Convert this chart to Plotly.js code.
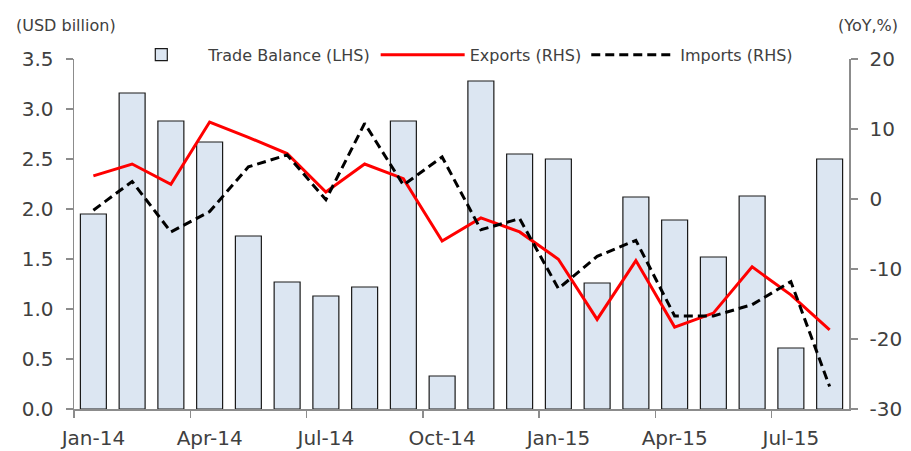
<!DOCTYPE html>
<html>
<head>
<meta charset="utf-8">
<script src="https://cdn.plot.ly/plotly-3.0.1.min.js"></script>
<style>
  html, body { margin: 0; padding: 0; background: #ffffff; }
  #chart { width: 911px; height: 451px; }
</style>
</head>
<body>
<div id="chart"></div>
<script>
const months = ["Jan-14","Feb-14","Mar-14","Apr-14","May-14","Jun-14","Jul-14","Aug-14","Sep-14","Oct-14","Nov-14","Dec-14",
                "Jan-15","Feb-15","Mar-15","Apr-15","May-15","Jun-15","Jul-15","Aug-15"];
const tradeBalance = [1.95, 3.16, 2.88, 2.67, 1.73, 1.27, 1.13, 1.22, 2.88, 0.33, 3.28, 2.55,
                      2.50, 1.26, 2.12, 1.89, 1.52, 2.13, 0.61, 2.50];
const exportsYoY = [3.3, 5.0, 2.1, 11.0, 8.8, 6.5, 1.0, 5.0, 2.9, -6.0, -2.7, -4.7,
                    -8.6, -17.2, -8.8, -18.3, -16.3, -9.7, -13.7, -18.7];
const importsYoY = [-1.6, 2.5, -4.7, -1.8, 4.6, 6.3, -0.1, 10.8, 2.0, 6.0, -4.4, -2.8,
                    -12.8, -8.2, -5.9, -16.7, -16.7, -15.1, -11.8, -26.8];
const leftTicks = [0, 0.5, 1.0, 1.5, 2.0, 2.5, 3.0, 3.5];
const rightTicks = [-30, -20, -10, 0, 10, 20];

const idx = months.map((m, i) => i);
const labelIdx = idx.filter(i => i % 3 === 0);
const boundaryVals = labelIdx.map(i => i - 0.5);

const FONT = "DejaVu Sans, Verdana, sans-serif";
const TXT = "#404040";
const AX = "#8c8c8c";

const traces = [
  {
    type: "bar", name: "Trade Balance (LHS)", x: idx, y: tradeBalance,
    xaxis: "x", yaxis: "y",
    marker: { color: "#dce6f2", line: { color: "#1a1a1a", width: 1.2 } }
  },
  {
    type: "scatter", mode: "lines", name: "Exports (RHS)", x: idx, y: exportsYoY,
    xaxis: "x2", yaxis: "y2",
    line: { color: "#ff0000", width: 3 }
  },
  {
    type: "scatter", mode: "lines", name: "Imports (RHS)", x: idx, y: importsYoY,
    xaxis: "x2", yaxis: "y2",
    line: { color: "#000000", width: 3, dash: "9px,5px" }
  }
];

const layout = {
  width: 911, height: 451,
  margin: { l: 74, r: 62, t: 59, b: 42 },
  paper_bgcolor: "#ffffff", plot_bgcolor: "#ffffff",
  font: { family: FONT, color: TXT, size: 16 },
  bargap: 0.33,
  showlegend: true,
  legend: {
    orientation: "h", x: 0.052, xanchor: "left", y: 1.012, yanchor: "middle",
    itemwidth: 84,
    bgcolor: "rgba(0,0,0,0)", font: { family: FONT, size: 16, color: TXT },
    traceorder: "normal"
  },
  xaxis: {
    type: "linear", range: [-0.5, 19.5], tickmode: "array", tickvals: boundaryVals,
    showticklabels: false, ticks: "outside", ticklen: 7, tickcolor: AX, tickwidth: 1.5,
    showline: true, linecolor: AX, linewidth: 1.5, showgrid: false, zeroline: false
  },
  xaxis2: {
    type: "linear", overlaying: "x", side: "bottom", anchor: "y", range: [-0.5, 19.5],
    tickmode: "array", tickvals: labelIdx, ticktext: labelIdx.map(i => months[i]),
    ticks: "", showline: false, showgrid: false, zeroline: false,
    tickfont: { family: FONT, size: 20, color: TXT }, ticklabelstandoff: 15
  },
  yaxis: {
    range: [0, 3.5], tickmode: "array", tickvals: leftTicks, tickformat: ".1f",
    ticks: "outside", ticklen: 7, tickcolor: AX, tickwidth: 1.5,
    showline: true, linecolor: AX, linewidth: 1.5, showgrid: false, zeroline: false,
    tickfont: { family: FONT, size: 20, color: TXT }, ticklabelstandoff: 8
  },
  yaxis2: {
    overlaying: "y", side: "right", anchor: "x2", range: [-30, 20], tickmode: "array",
    tickvals: rightTicks, ticktext: rightTicks.map(v => String(v)),
    ticks: "outside", ticklen: 7, tickcolor: AX, tickwidth: 1.5,
    showline: true, linecolor: AX, linewidth: 1.5, showgrid: false, zeroline: false,
    tickfont: { family: FONT, size: 20, color: TXT }, ticklabelstandoff: 8
  },
  annotations: [
    { text: "(USD billion)", xref: "paper", yref: "paper", x: -0.077, y: 1.097,
      xanchor: "left", yanchor: "middle", showarrow: false, font: { family: FONT, size: 16, color: TXT } },
    { text: "(YoY,%)", xref: "paper", yref: "paper", x: 1.066, y: 1.097,
      xanchor: "right", yanchor: "middle", showarrow: false, font: { family: FONT, size: 16, color: TXT } }
  ]
};

Plotly.newPlot("chart", traces, layout, { staticPlot: true, displayModeBar: false });
</script>
</body>
</html>
